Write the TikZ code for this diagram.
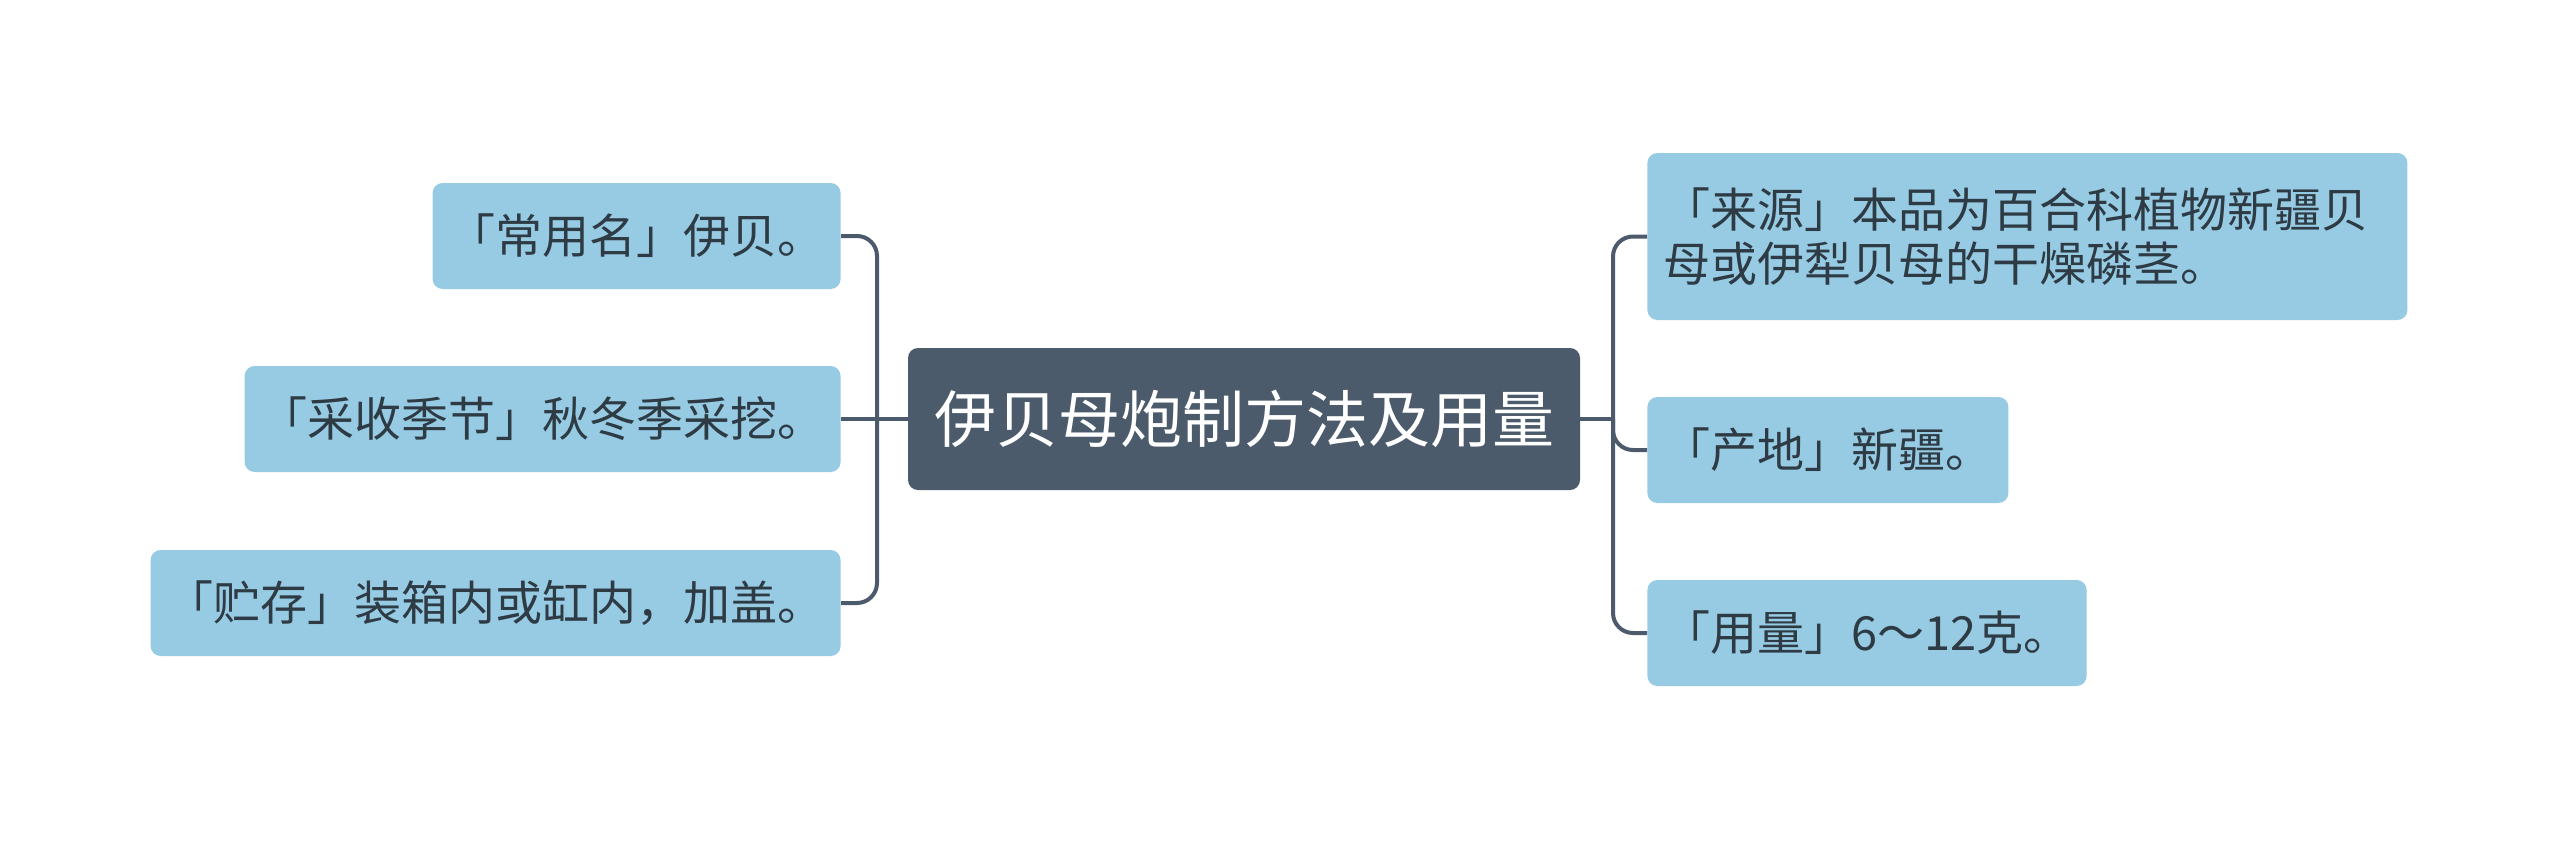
\documentclass[tikz,border=0pt]{standalone}
\usepackage{fontspec}
\setmainfont{Noto Sans CJK SC}
\definecolor{leafblue}{HTML}{96CBE3}
\definecolor{rootslate}{HTML}{4B5B6B}
\definecolor{inkdark}{HTML}{2E3B44}
\begin{document}
\begin{tikzpicture}[x=0.5pt, y=-0.5pt,
  leaf/.style={rectangle, fill=leafblue, rounded corners=5pt, text=inkdark,
               minimum height=53pt, inner xsep=8pt, font=\fontsize{23.5}{27}\selectfont},
  root/.style={rectangle, fill=rootslate, rounded corners=5pt, text=white,
               minimum width=336pt, minimum height=71pt, font=\fontsize{31}{36}\selectfont},
  link/.style={draw=rootslate, line width=2pt, rounded corners=10pt}
]
  \useasboundingbox (0,0) rectangle (2560,841);

  % Centre
  \node[root] (root) at (1244, 419) {伊贝母炮制方法及用量};

  % Gauche
  \node[leaf, anchor=east] (alias) at (841, 236) {「常用名」伊贝。};
  \node[leaf, anchor=east] (season) at (841, 419) {「采收季节」秋冬季采挖。};
  \node[leaf, anchor=east] (store) at (841, 603) {「贮存」装箱内或缸内，加盖。};
  \coordinate (lbus) at (877, 419);
  \draw[link] (alias.east) -| (lbus) |- (store.east);
  \draw[link] (root.west) -- (season.east);

  % Droite
  \node[leaf, anchor=west, align=left, minimum height=83.5pt,
        text width=364pt] (source) at (1647, 236.5)
    {「来源」本品为百合科植物新疆贝\\母或伊犁贝母的干燥磷茎。};
  \node[leaf, anchor=west] (origin) at (1647, 450) {「产地」新疆。};
  \node[leaf, anchor=west] (dose) at (1647, 633) {「用量」6～12克。};
  \coordinate (rbus) at (1613, 419);
  \draw[link] (source.west) -| (rbus) |- (dose.west);
  \draw[link] (root.east) -- (rbus);
  \draw[link] (rbus) |- (origin.west);
\end{tikzpicture}
\end{document}
